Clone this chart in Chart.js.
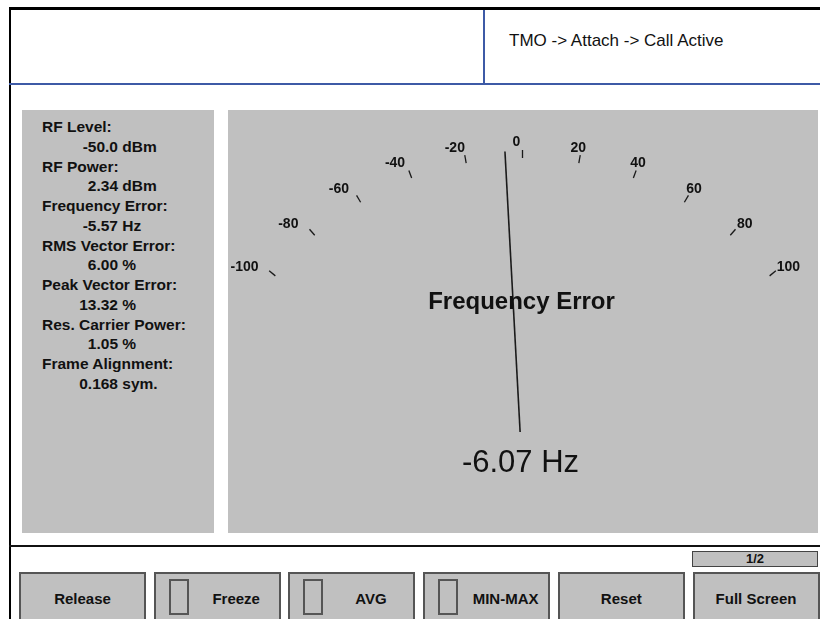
<!DOCTYPE html>
<html>
<head>
<meta charset="utf-8">
<script src="https://cdn.jsdelivr.net/npm/chart.js@4.4.1/dist/chart.umd.min.js"></script>
<style>
    html, body { margin: 0; padding: 0; background: #fff; }
    body { width: 820px; height: 619px; position: relative; overflow: hidden;
           font-family: "Liberation Sans", Arial, sans-serif; color: #111; }
    .abs { position: absolute; }
    #frameTop { left: 9px; top: 7px; width: 811px; height: 3px; background: #000; }
    #frameLeft { left: 9px; top: 7px; width: 2px; height: 612px; background: #000; }
    #blueH { left: 9px; top: 83px; width: 811px; height: 2px; background: #3d5aa6; }
    #blueV { left: 483px; top: 10px; width: 2px; height: 74px; background: #3d5aa6; }
    #status { left: 509px; top: 31px; font-size: 17px; line-height: 20px; white-space: nowrap; }
    #bottomLine { left: 9px; top: 545px; width: 811px; height: 2px; background: #111; }
    #meas { left: 22px; top: 110px; width: 192px; height: 423px; background: #c0c0c0; }
    #measList { padding: 7px 0 0 20px; font-weight: bold; font-size: 15.5px; line-height: 19.75px; white-space: nowrap; }
    #measList .num { display: inline-block; width: 76px; text-align: right; }
    #gauge { left: 228px; top: 110px; width: 590px; height: 423px; background: #c0c0c0; }
    .btn { top: 572px; width: 123px; height: 60px; background: #c0c0c0; border: 2px solid #555;
           font-weight: bold; font-size: 15px; }
    .btn .txt { position: absolute; top: 16px; right: 0; text-align: center; }
    .btn .chk { position: absolute; left: 13px; top: 5px; width: 16px; height: 32px; border: 2px solid #555; }
    #page { left: 692px; top: 551px; width: 124px; height: 14px; background: #c0c0c0; border: 1.5px solid #444;
            font-weight: bold; font-size: 13px; line-height: 14px; text-align: center; }
</style>
</head>
<body>
<div class="abs" id="frameTop"></div>
<div class="abs" id="frameLeft"></div>
<div class="abs" id="blueH"></div>
<div class="abs" id="blueV"></div>
<div class="abs" id="status"></div>
<div class="abs" id="meas"><div id="measList"></div></div>
<div class="abs" id="gauge"><canvas id="gaugeChart" width="590" height="423"></canvas></div>
<div class="abs" id="bottomLine"></div>
<div class="abs" id="page"></div>
<div id="buttons"></div>

<script>
// =========================
// DATA
// =========================
const statusText = "TMO -> Attach -> Call Active";

const measNames = ["RF Level:", "RF Power:", "Frequency Error:", "RMS Vector Error:",
                   "Peak Vector Error:", "Res. Carrier Power:", "Frame Alignment:"];
const measNumbers = ["-50.0", "2.34", "-5.57", "6.00", "13.32", "1.05", "0.168"];
const measUnits = ["dBm", "dBm", "Hz", "%", "%", "%", "sym."];

const tickValues = [-100, -80, -60, -40, -20, 0, 20, 40, 60, 80, 100];
const tickLabels = ["-100", "-80", "-60", "-40", "-20", "0", "20", "40", "60", "80", "100"];
const scaleMin = -100;
const scaleMax = 100;

const needleValue = -6.07;
const gaugeTitle = "Frequency Error";
const readoutText = "-6.07 Hz";

const buttonLabels = ["Release", "Freeze", "AVG", "MIN-MAX", "Reset", "Full Screen"];
const buttonHasCheck = [false, true, true, true, false, false];
const pageText = "1/2";

// =========================
// STATIC PANELS
// =========================
document.getElementById("status").textContent = statusText;
document.getElementById("page").textContent = pageText;

const list = document.getElementById("measList");
measNames.forEach((name, i) => {
    const a = document.createElement("div");
    a.textContent = name;
    const b = document.createElement("div");
    b.innerHTML = `<span class="num">${measNumbers[i]}</span> ${measUnits[i]}`;
    list.appendChild(a);
    list.appendChild(b);
});

const btnBox = document.getElementById("buttons");
buttonLabels.forEach((label, i) => {
    const b = document.createElement("div");
    b.className = "abs btn";
    b.style.left = (19 + i * 134.7) + "px";
    const left = buttonHasCheck[i] ? 38 : 0;
    b.innerHTML = (buttonHasCheck[i] ? '<div class="chk"></div>' : "") +
        `<div class="txt" style="left:${left}px">${label}</div>`;
    btnBox.appendChild(b);
});

// =========================
// GAUGE GEOMETRY (panel units)
// =========================
const G = {
    cx: 294.5, cy: 366, sweep: 51,
    tickIn: 318, tickOut: 326, labelR: 337,
    needleIn: 44, needleOut: 325,
    titleY: 199, readoutY: 362
};

function angleOf(v) {
    const t = (v - scaleMin) / (scaleMax - scaleMin) * 2 - 1;
    return t * G.sweep * Math.PI / 180;
}

function polar(r, v) {
    const a = angleOf(v);
    return { x: G.cx + r * Math.sin(a), y: G.cy - r * Math.cos(a) };
}

const tickSets = tickValues.map(v => ({
    data: [polar(G.tickIn, v), polar(G.tickOut, v)],
    showLine: true, borderColor: "#1a1a1a", borderWidth: 1.3, pointRadius: 0
}));

const needleSet = {
    data: [polar(G.needleIn, needleValue), polar(G.needleOut, needleValue)],
    showLine: true, borderColor: "#1a1a1a", borderWidth: 1.6, pointRadius: 0
};

// labels, title and readout
const gaugeText = {
    id: "gaugeText",
    afterDatasetsDraw(chart) {
        const ctx = chart.ctx;
        const xs = chart.scales.x;
        const ys = chart.scales.y;
        ctx.save();
        ctx.fillStyle = "#111";
        ctx.textAlign = "center";

        ctx.font = "bold 14px 'Liberation Sans', Arial, sans-serif";
        ctx.textBaseline = "middle";
        tickValues.forEach((v, i) => {
            const p = polar(G.labelR, v);
            ctx.fillText(tickLabels[i], xs.getPixelForValue(p.x - 6 + 0.1 * v), ys.getPixelForValue(p.y + 3.5));
        });

        ctx.textBaseline = "alphabetic";
        ctx.font = "bold 24px 'Liberation Sans', Arial, sans-serif";
        ctx.fillText(gaugeTitle, xs.getPixelForValue(G.cx - 1), ys.getPixelForValue(G.titleY));

        ctx.font = "31px 'Liberation Sans', Arial, sans-serif";
        ctx.fillText(readoutText, xs.getPixelForValue(G.cx - 2), ys.getPixelForValue(G.readoutY));
        ctx.restore();
    }
};

// =========================
// CHART
// =========================
new Chart(document.getElementById("gaugeChart"), {
    type: "scatter",
    data: { datasets: [...tickSets, needleSet] },
    options: {
        responsive: false,
        animation: false,
        events: [],
        layout: { padding: 0 },
        plugins: { legend: { display: false }, tooltip: { enabled: false } },
        scales: {
            x: { type: "linear", min: 0, max: 590, display: false },
            y: { type: "linear", min: 0, max: 423, reverse: true, display: false }
        }
    },
    plugins: [gaugeText]
});
</script>
</body>
</html>
